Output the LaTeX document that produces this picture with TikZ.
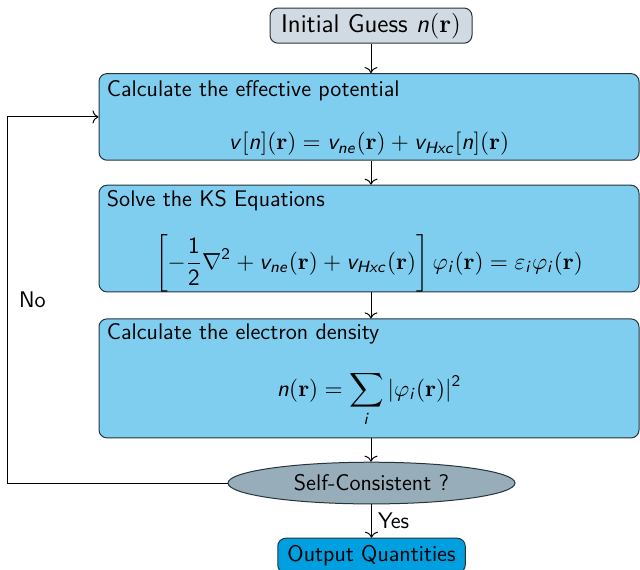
\documentclass[tikz,border=0pt]{standalone}
\usepackage{fix-cm}
\usepackage{amsmath}
\usepackage{xcolor}
\definecolor{guessgray}{HTML}{D1DAE3}
\definecolor{stepblue}{HTML}{80CEEF}
\definecolor{checkgray}{HTML}{98ADBA}
\definecolor{outblue}{HTML}{009FE0}
\definecolor{edgegray}{HTML}{26343C}
% sans slanted letters and sans digits in the formulas
\DeclareSymbolFont{sfletters}{OT1}{cmss}{m}{sl}
\DeclareSymbolFont{sfdigits}{OT1}{cmss}{m}{n}
\DeclareMathSymbol{c}{\mathalpha}{sfletters}{`c}
\DeclareMathSymbol{e}{\mathalpha}{sfletters}{`e}
\DeclareMathSymbol{i}{\mathalpha}{sfletters}{`i}
\DeclareMathSymbol{n}{\mathalpha}{sfletters}{`n}
\DeclareMathSymbol{v}{\mathalpha}{sfletters}{`v}
\DeclareMathSymbol{x}{\mathalpha}{sfletters}{`x}
\DeclareMathSymbol{H}{\mathalpha}{sfletters}{`H}
\DeclareMathSymbol{1}{\mathalpha}{sfdigits}{`1}
\DeclareMathSymbol{2}{\mathalpha}{sfdigits}{`2}
\usepackage{tikz}
\usetikzlibrary{shapes.geometric, arrows.meta, positioning}
\tikzset{
  guessbox/.style={rectangle, rounded corners=4pt, draw=edgegray, line width=0.5pt, fill=guessgray,
                   minimum width=101pt, minimum height=17.6pt, inner sep=0pt,
                   font=\fontsize{12.8}{15}\selectfont\sffamily},
  stepbox/.style ={rectangle, rounded corners=4pt, draw=edgegray, line width=0.5pt, fill=stepblue,
                   minimum width=270pt, inner sep=0pt},
  steptitle/.style={anchor=base west, inner sep=0pt},
  stepeq/.style  ={anchor=base, inner sep=0pt, font=\fontsize{11.6}{14}\selectfont\sffamily},
  checkbox/.style={ellipse, draw=edgegray, line width=0.5pt, fill=checkgray,
                   minimum width=143.5pt, minimum height=20.85pt, inner sep=0pt},
  outbox/.style  ={rectangle, rounded corners=4pt, draw=edgegray, line width=0.5pt, fill=outblue,
                   minimum width=93.75pt, minimum height=17.35pt, inner sep=0pt},
  flow/.style    ={-{To[length=3pt, width=6.5pt]}, line width=0.5pt, color=black},
  flowlbl/.style ={inner sep=3pt},
}
\begin{document}
\begin{tikzpicture}[x=0.5pt, y=-0.5pt, font=\fontsize{11.3}{13.8}\selectfont\sffamily]
  \useasboundingbox (0,0) rectangle (640,569);
  \node[guessbox] (init) at (371,25.6) {Initial Guess $n(\mathbf{r})$};
  \node[stepbox, minimum height=43.3pt, below=14.7pt of init, xshift=-1pt] (b1) {};
  \node[stepbox, minimum height=53.35pt, below=12pt of b1] (b2) {};
  \node[stepbox, minimum height=59.5pt, below=13pt of b2] (b3) {};
  \node[checkbox, below=11.65pt of b3, xshift=1.25pt] (sc) {Self-Consistent ?};
  \node[outbox, below=16.65pt of sc] (out) {Output Quantities};
  % texts inside the three steps
  \node[steptitle] (t1) at ([xshift=4pt, yshift=-11.65pt]b1.north west) {Calculate the effective potential};
  \node[stepeq] (e1) at ([yshift=5.4pt]b1.south) {$v[n](\mathbf{r}) = v_{ne}(\mathbf{r}) + v_{Hxc}[n](\mathbf{r})$};
  \node[steptitle] (t2) at ([xshift=4pt, yshift=-10.85pt]b2.north west) {Solve the KS Equations};
  \node[stepeq] (e2) at ([yshift=11.5pt]b2.south)
    {$\displaystyle \left[-\frac{1}{2}\nabla^2 + v_{ne}(\mathbf{r}) + v_{Hxc}(\mathbf{r})\right]\varphi_i(\mathbf{r}) = \varepsilon_i\varphi_i(\mathbf{r})$};
  \node[steptitle] (t3) at ([xshift=4pt, yshift=-10.35pt]b3.north west) {Calculate the electron density};
  \node[stepeq] (e3) at ([yshift=21pt]b3.south) {$\displaystyle n(\mathbf{r}) = \sum_i |\varphi_i(\mathbf{r})|^2$};
  % connectors
  \draw[flow] (init) -- (init |- b1.north);
  \draw[flow] (init |- b1.south) -- (init |- b2.north);
  \draw[flow] (init |- b2.south) -- (init |- b3.north);
  \draw[flow] (init |- b3.south) -- (init |- sc.north);
  \draw[flow] (sc) -- node[flowlbl, right]{Yes} (out);
  \draw[flow] (sc.west) -| node[flowlbl, pos=0.75, right, xshift=2.5pt]{No} ([xshift=-45.5pt]b1.west) -- (b1.west);
\end{tikzpicture}
\end{document}
